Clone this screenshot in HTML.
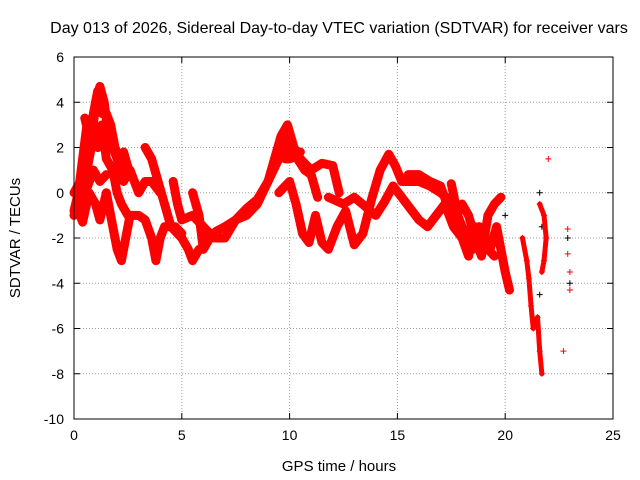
<!DOCTYPE html>
<html><head><meta charset="utf-8"><style>
body{margin:0;background:#fff;}
svg{display:block;font-family:"Liberation Sans",sans-serif;}
</style></head><body>
<svg id="chart" width="640" height="480" viewBox="0 0 640 480">
<rect width="640" height="480" fill="#fff"/>
<text x="339" y="33" font-size="16" text-anchor="middle">Day 013 of 2026, Sidereal Day-to-day VTEC variation (SDTVAR) for receiver vars</text>
<text x="339" y="471" font-size="15" text-anchor="middle">GPS time / hours</text>
<text transform="translate(20,238) rotate(-90)" font-size="15" text-anchor="middle">SDTVAR / TECUs</text>
<g id="grid"></g><g id="ticks"></g><g id="marks"></g>
<rect x="74" y="57" width="539" height="362" fill="none" stroke="#000" stroke-width="1"/>
</svg>
<script>
const xTicks=[0,5,10,15,20,25];
const yTicks=[6,4,2,0,-2,-4,-6,-8,-10];
const trackA1=[[0,-0.8],[0.2,0],[0.4,1.5],[0.6,3],[0.8,2],[1,4],[1.2,4.7],[1.4,4],[1.6,2.5],[1.8,2],[2,1.5],[2.3,0.5],[2.6,1],[3,0],[3.3,0.5],[3.6,0.5],[4,0]];
const trackA2=[[0,-1],[0.3,-0.5],[0.5,0.5],[0.7,1.5],[0.9,2.5],[1.1,2],[1.3,3],[1.5,1.5],[1.8,1],[2,0],[2.2,-0.5],[2.5,-1]];
const trackA3=[[0.1,-0.5],[0.4,-1.3],[0.7,0],[1,-0.5],[1.2,-1.2],[1.5,0],[1.7,-1],[2,-2.5],[2.2,-3],[2.4,-2],[2.6,-1],[3,-1],[3.3,-1.2],[3.6,-2],[3.8,-3],[4,-2],[4.2,-1.5],[4.7,-1.5],[5,-1.8]];
const trackA4=[[0.5,3.3],[0.7,2.5],[0.9,3.5],[1.1,4.5],[1.3,3.5],[1.5,3.5],[1.7,3],[1.9,2],[2.1,1.5],[2.3,1.8],[2.6,0.8]];
const trackA5=[[0,0],[0.3,0.5],[0.6,0.2],[0.9,1],[1.2,0.5],[1.5,0.8]];
const trackC=[[3.3,2],[3.6,1.5],[3.9,0.5],[4.2,-0.5],[4.5,-1.5],[5,-2],[5.3,-2.5],[5.5,-3],[5.8,-2.5]];
const trackD=[[4.6,0.5],[4.8,-0.5],[5,-1.2],[5.5,-1],[6,-1.5],[6.5,-2],[7,-2],[7.5,-1.2],[8,-0.7],[8.5,-0.3],[9,0.5],[9.3,1.5],[9.6,2.5],[9.9,3],[10.2,2],[10.5,1.5],[11,1],[11.5,1.3],[12,1.2],[12.3,0]];
const trackD2=[[5.5,0],[5.8,-1],[6,-2.5],[6.3,-2],[6.6,-1.7],[7,-1.5],[7.5,-1.2],[8,-1],[8.5,-0.5],[9,0.5],[9.5,1.5],[9.8,2.5],[10,1.8],[10.5,1.8]];
const trackD3=[[9.2,1],[9.5,2],[9.8,1.5],[10,1.5],[10.3,1.6],[10.7,1],[11,0.8],[11.3,-0.2]];
const trackE=[[9.5,0],[10,0.5],[10.3,-0.5],[10.6,-1.8],[10.9,-2.2],[11.2,-1],[11.5,-2.2],[11.8,-2.5],[12.2,-1.5],[12.6,-0.8],[13,-2.3],[13.4,-1.8],[13.8,-0.3],[14.2,1],[14.6,1.7],[14.9,1.2],[15.2,0.5],[15.6,0.5],[16,0.5],[16.5,0.3],[17,0],[17.4,-0.3]];
const trackF=[[11.8,-0.2],[12.5,-0.5],[13,-0.2],[13.5,-0.6],[14,-1],[14.4,-0.4],[14.8,0.3],[15.2,-0.2],[15.6,-0.7],[16,-1.2],[16.4,-1.5],[16.8,-1],[17.2,-0.5],[17.6,-1.5],[18,-2],[18.3,-2.8],[18.6,-1.5],[19,-2],[19.3,-2.5],[19.6,-1.5],[20,-3.5],[20.2,-4.3]];
const trackG=[[15.5,0.8],[16,0.8],[16.5,0.5],[17,0.3],[17.3,-0.5],[17.6,-1.3],[18,-0.5],[18.3,-1],[18.6,-2],[18.9,-2.8],[19.2,-1],[19.5,-0.5],[19.8,-0.2]];
const trackG2=[[17.5,0.4],[17.8,-1],[18,-1.5],[18.3,-2],[18.5,-2.5],[18.8,-1.5],[19.2,-2.5],[19.5,-2.8]];
const trackH=[[20.8,-2],[21,-3],[21.1,-3.8],[21.2,-5],[21.3,-6],[21.5,-5.5],[21.6,-7],[21.7,-8]];
const trackI=[[21.6,-0.5],[21.8,-1],[21.9,-2],[21.8,-3],[21.7,-3.5]];
const trackJ=[[22,1.5],[22.7,-7],[22.9,-1.6],[22.9,-2.7],[23,-3.5],[23,-4.3]];
const blackPts=[[21.6,0],[21.7,-1.5],[21.6,-4.5],[22.9,-2],[23,-4],[20,-1]];
const bigTracks=[trackA1,trackA2,trackA3,trackA4,trackA5,trackC,trackD,trackD2,trackD3,trackE,trackF,trackG,trackG2];
const thinTracks=[trackH,trackI];
const NS="http://www.w3.org/2000/svg";
const X0=74,X1=613,Y0=419,Y1=57;
const sx=v=>X0+(v-0)/(25-0)*(X1-X0);
const sy=v=>Y0-(v+10)/16*(Y0-Y1);
function mk(t,a){const e=document.createElementNS(NS,t);for(const k in a)e.setAttribute(k,a[k]);return e;}
const grid=document.getElementById('grid'),ticks=document.getElementById('ticks'),marks=document.getElementById('marks');
xTicks.forEach(t=>{
 if(t>0&&t<25){const l=mk('line',{x1:sx(t),x2:sx(t),y1:Y1,y2:Y0,stroke:'#a0a0a0','stroke-dasharray':'1,2'});
 
 grid.appendChild(l);}
 const tx=mk('text',{x:sx(t),y:Y0+21,'font-size':14,'text-anchor':'middle'});tx.textContent=t;
 
 ticks.appendChild(tx);
 ticks.appendChild(mk('line',{x1:sx(t),x2:sx(t),y1:Y0,y2:Y0-6,stroke:'#000'}));
 ticks.appendChild(mk('line',{x1:sx(t),x2:sx(t),y1:Y1,y2:Y1+6,stroke:'#000'}));
});
yTicks.forEach(t=>{
 if(t>-10&&t<6){const l=mk('line',{x1:X0,x2:X1,y1:sy(t),y2:sy(t),stroke:'#a0a0a0','stroke-dasharray':'1,2'});
 
 grid.appendChild(l);}
 const tx=mk('text',{x:X0-10,y:sy(t)+5,'font-size':14,'text-anchor':'end'});tx.textContent=t;
 
 ticks.appendChild(tx);
 ticks.appendChild(mk('line',{x1:X0,x2:X0+6,y1:sy(t),y2:sy(t),stroke:'#000'}));
 ticks.appendChild(mk('line',{x1:X1,x2:X1-6,y1:sy(t),y2:sy(t),stroke:'#000'}));
});
function plus(p,c){
 const g=mk('path',{d:`M${sx(p[0])-3},${sy(p[1])}h6M${sx(p[0])},${sy(p[1])-3}v6`,stroke:c,'stroke-width':1});
 
 
 marks.appendChild(g);
}
function drawTrack(tr,w){
 const pl=mk('polyline',{points:tr.map(p=>sx(p[0])+','+sy(p[1])).join(' '),fill:'none',stroke:'#ff0000','stroke-width':w,'stroke-linejoin':'round','stroke-linecap':'round'});
 
 
 marks.appendChild(pl);
 tr.forEach(p=>plus(p,'#ff0000'));
}
blackPts.forEach(p=>plus(p,'#000'));
bigTracks.forEach(tr=>drawTrack(tr,9));
thinTracks.forEach(tr=>drawTrack(tr,5));
trackJ.forEach(p=>plus(p,'#ff0000'));
</script>
</body></html>
